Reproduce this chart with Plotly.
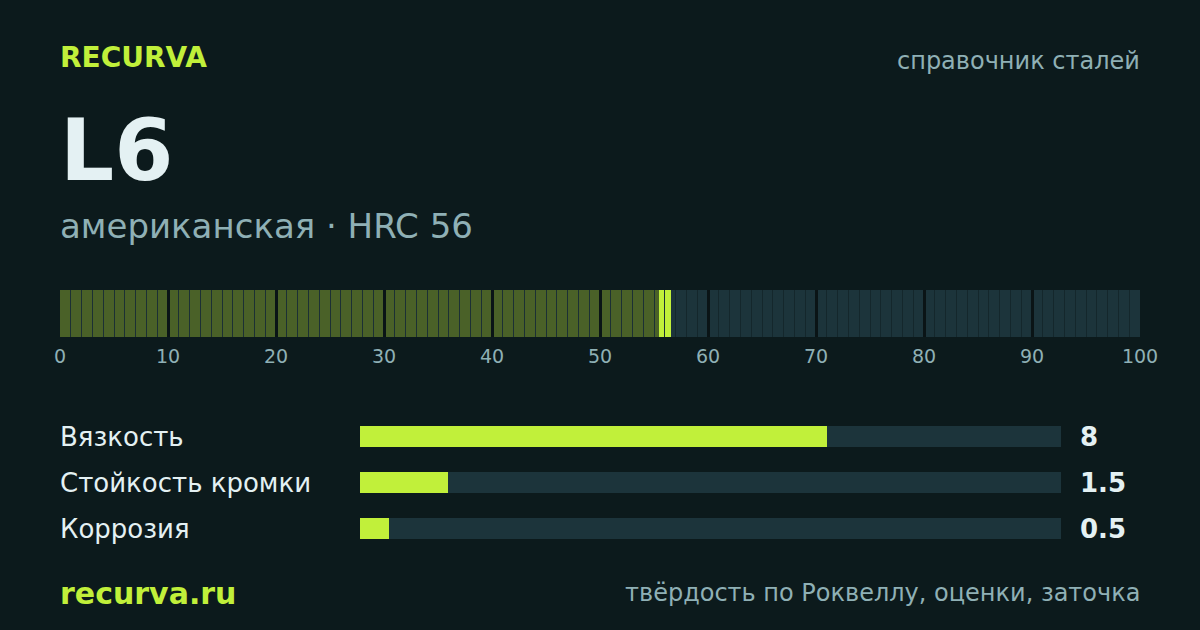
import plotly.graph_objects as go

BG = "#0c1a1c"
LIME = "#c1f03a"
TRACK = "#1c343b"
OLIVE = "#4a6128"
MUTED = "#8fb0b5"
LIGHT = "#e4f1f3"
FONT = "DejaVu Sans"

HRC = 56
SCALE_MAX = 100
SCALE_TICKS = [0, 10, 20, 30, 40, 50, 60, 70, 80, 90, 100]
UNITS = list(range(100))
MARKER_WIDTH = 1.1

METRICS = ["Вязкость", "Стойкость кромки", "Коррозия"]
SCORES = [8, 1.5, 0.5]
SCORE_LABELS = ["8", "1.5", "0.5"]
SCORE_MAX = 12

W, H = 1200, 630


def px(x):
    return x / W


def py(y):
    return 1 - y / H


fig = go.Figure()

common = dict(hoverinfo="skip", showlegend=False, xaxis="x", yaxis="y", cliponaxis=False)
fig.add_trace(go.Bar(x=[SCALE_MAX / 2 + 0.05], y=[1], width=SCALE_MAX + 0.1,
                     marker=dict(color=TRACK, line_width=0), **common))
fig.add_trace(go.Bar(x=[HRC / 2], y=[1], width=HRC,
                     marker=dict(color=OLIVE, line_width=0), **common))
fig.add_trace(go.Bar(x=[HRC], y=[1], width=MARKER_WIDTH,
                     marker=dict(color=LIME, line_width=0), **common))
minor = [u for u in UNITS if u % 10 != 0]
fig.add_trace(go.Bar(x=minor, y=[1] * len(minor), width=1 / 10.8,
                     marker=dict(color=["#1c3034" if u <= HRC else "#14272c" for u in minor],
                                 line_width=0), **common))
major = [t for t in SCALE_TICKS if 0 < t < 100]
fig.add_trace(go.Bar(x=major, y=[1] * len(major), width=3 / 10.8,
                     marker=dict(color="#0a1416", line_width=0), **common))

# Score bars
fig.add_trace(go.Bar(
    y=METRICS, x=[SCORE_MAX] * len(METRICS), orientation="h", width=21 / 46,
    marker=dict(color=TRACK, line_width=0),
    xaxis="x2", yaxis="y2", hoverinfo="skip", showlegend=False))
fig.add_trace(go.Bar(
    y=METRICS, x=SCORES, orientation="h", width=21 / 46,
    marker=dict(color=LIME, line_width=0),
    xaxis="x2", yaxis="y2", hoverinfo="skip", showlegend=False))


def note(text, x, y, size, color, bold=False, anchor="left"):
    fig.add_annotation(
        text=f"<b>{text}</b>" if bold else text,
        x=x, y=y, xref="x3", yref="y3",
        xanchor=anchor, yanchor="middle", showarrow=False, align=anchor,
        font=dict(family=FONT, size=size, color=color), borderpad=0, borderwidth=0)


note("RECURVA", 60, 57, 28, LIME, True)
note("справочник сталей", 1140, 61, 24, MUTED, anchor="right")
note("L6", 60, 150, 85, LIGHT, True)
note("американская · HRC 56", 60, 226, 34, MUTED)
for i, m in enumerate(METRICS):
    yy = 436.5 + 46 * i
    note(m, 60, yy, 26, LIGHT)
    note(SCORE_LABELS[i], 1080, yy, 26, LIGHT, True)
note("recurva.ru", 60, 593, 30, LIME, True)
note("твёрдость по Роквеллу, оценки, заточка", 1140, 593, 24, MUTED, anchor="right")

fig.update_layout(
    width=W, height=H, margin=dict(l=0, r=0, t=0, b=0),
    paper_bgcolor=BG, plot_bgcolor="rgba(0,0,0,0)", barmode="overlay", bargap=0,
    showlegend=False,
    font=dict(family=FONT),
    xaxis=dict(domain=[px(60), px(1140)], range=[0, SCALE_MAX], tickmode="array",
               tickvals=SCALE_TICKS, ticktext=[str(t) for t in SCALE_TICKS],
               showgrid=False, zeroline=False, showline=False, automargin=False,
               ticks="outside", ticklen=2, tickcolor="rgba(0,0,0,0)",
               tickfont=dict(family=FONT, size=19, color=MUTED), anchor="y"),
    yaxis=dict(domain=[py(337), py(290)], range=[0, 1], visible=False, anchor="x"),
    xaxis2=dict(domain=[px(360), px(1061)], range=[0, SCORE_MAX], visible=False, anchor="y2"),
    yaxis2=dict(domain=[py(551.5), py(413.5)], type="category", categoryorder="array",
                categoryarray=METRICS, range=[2.5, -0.5], visible=False, anchor="x2"),
    xaxis3=dict(domain=[0, 1], range=[0, W], visible=False, anchor="y3"),
    yaxis3=dict(domain=[0, 1], range=[H, 0], visible=False, anchor="x3"),
)

fig.write_html("out.html", config=dict(displayModeBar=False, staticPlot=True),
               post_script="document.body.style.margin='0';document.body.style.background='" + BG + "';")
